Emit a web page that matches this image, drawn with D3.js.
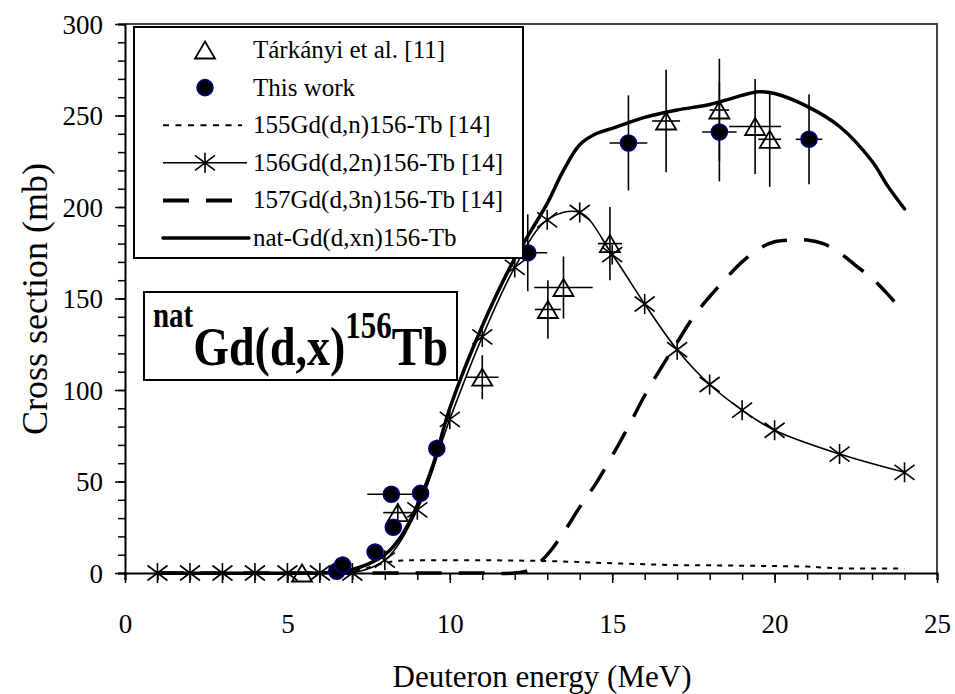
<!DOCTYPE html>
<html>
<head>
<meta charset="utf-8">
<script src="https://cdn.jsdelivr.net/npm/d3@7.9.0/dist/d3.min.js"></script>
<style>
  html, body { margin: 0; padding: 0; background: #fff; }
  svg { display: block; }
</style>
</head>
<body>
<svg id="chart" width="955" height="694" font-family="Liberation Serif"></svg>
<script>
// ---- Data ----
// Tárkányi et al. [11]: energy, cross section, x error, y error
const tarkE    = [5.45, 8.4, 11.0, 13.02, 13.5, 14.93, 16.66, 18.3, 19.4, 19.85];
const tarkXS   = [0, 33, 107, 144, 156, 180, 247, 253, 244, 237];
const tarkDE   = [0.3, 0.45, 0.5, 0.4, 0.9, 0.37, 0.43, 0.3, 0.8, 0.35];
const tarkDXS  = [0, 5, 12, 16, 17, 20, 28, 28, 26, 26];

// This work
const workE    = [6.52, 6.7, 7.7, 8.2, 8.26, 9.1, 9.6, 12.4, 15.5, 18.3, 21.06];
const workXS   = [1, 4.4, 11.5, 43, 25, 43.6, 68, 175, 235, 241, 237];
const workDE   = [0.2, 0.2, 0.2, 0.74, 0.2, 0.2, 0.2, 0.6, 0.58, 0.53, 0.41];
const workDXS  = [1, 1, 2, 4, 3, 4, 5, 21, 26, 27, 24.6];

// 155Gd(d,n)156-Tb [14]
const dnE  = [1, 6, 6.5, 7, 7.5, 8, 8.5, 9, 10, 11, 12, 13, 14, 15, 16, 17, 18, 19, 20, 21, 21.5, 22, 23, 24];
const dnXS = [0, 0, 0.3, 1, 3, 5.5, 6.8, 7, 7, 7, 6.8, 6.5, 6, 5.3, 4.8, 4.3, 4.2, 4, 3.8, 3.5, 3, 2.6, 2.5, 2.5];

// 156Gd(d,2n)156-Tb [14]
const d2nE  = [1, 2, 3, 4, 5, 6, 7, 8, 9, 10, 11, 12, 13, 14, 15, 16, 17, 18, 19, 20, 22, 24];
const d2nXS = [0, 0, 0, 0, 0, 0, 0, 7, 34.5, 84, 129, 167, 193, 197, 174, 147, 122, 103, 89, 78, 65, 55];

// 157Gd(d,3n)156-Tb [14]
const d3nE  = [1, 6, 11, 12, 12.5, 13, 13.5, 14, 14.5, 15, 15.5, 16, 16.5, 17, 17.5, 18, 18.5, 19, 19.5, 20, 20.5, 21, 21.5, 22, 22.5, 23, 23.5, 24];
const d3nXS = [0, 0, 0, 0, 2, 10, 22, 36, 49, 64, 80, 97, 112, 126, 140, 151, 161, 170, 177, 181, 182, 182, 180, 175, 168, 161, 152, 142];

// nat-Gd(d,xn)156-Tb
const natE  = [1, 6, 6.5, 7, 7.5, 8, 8.5, 9, 9.5, 10, 11, 12, 12.5, 13, 13.5, 14, 14.5, 15, 16, 17, 18, 19, 19.5, 20, 21, 22, 23, 23.5, 24];
const natXS = [0, 0, 0.5, 2, 5, 10, 20, 37, 60, 90, 135, 172, 187, 202, 220, 234, 240, 243, 249, 253, 256, 261, 263, 262, 255, 244, 225, 211, 199];

const xTicks = [0, 5, 10, 15, 20, 25];
const yTicks = [0, 50, 100, 150, 200, 250, 300];

const legendLabels = [
  'Tárkányi et al. [11]',
  'This work',
  '155Gd(d,n)156-Tb [14]',
  '156Gd(d,2n)156-Tb [14]',
  '157Gd(d,3n)156-Tb [14]',
  'nat-Gd(d,xn)156-Tb'
];

const FONT = 'Liberation Serif';

// ---- Layout ----
const svg = d3.select('#chart');
const plotLeft = 125, plotRight = 937, plotTop = 24, plotBottom = 573;

const x = d3.scaleLinear().domain([0, 25]).range([plotLeft, plotRight]);
const y = d3.scaleLinear().domain([0, 300]).range([plotBottom, plotTop]);

// frame (top / right)
svg.append('path')
  .attr('d', `M${plotLeft},${plotTop}H${plotRight}V${plotBottom}`)
  .attr('fill', 'none')
  .attr('stroke', '#444')
  .attr('stroke-width', 2);

// ---- Axes ----
const xAxis = svg.append('g').attr('transform', `translate(0,${plotBottom})`);
xAxis.call(d3.axisBottom(x).tickValues(d3.range(0, 26, 1)).tickSize(7).tickFormat(''));
const xMajor = svg.append('g').attr('transform', `translate(0,${plotBottom})`);
xMajor.call(d3.axisBottom(x).tickValues(xTicks).tickSize(10).tickPadding(31));
xMajor.select('.domain').remove();

const yAxis = svg.append('g').attr('transform', `translate(${plotLeft},0)`);
yAxis.call(d3.axisLeft(y).tickValues(d3.range(0, 301, 10)).tickSize(7).tickFormat(''));
const yMajor = svg.append('g').attr('transform', `translate(${plotLeft},0)`);
yMajor.call(d3.axisLeft(y).tickValues(yTicks).tickSize(10).tickPadding(12));
yMajor.select('.domain').remove();

[xAxis, xMajor, yAxis, yMajor].forEach(g => g.attr('font-family', FONT).attr('font-size', 27));
svg.selectAll('.domain').attr('stroke', '#000').attr('stroke-width', 2);
svg.selectAll('.tick line').attr('stroke', '#000').attr('stroke-width', 1.5);
svg.selectAll('.tick text')
  .attr('font-family', FONT)
  .attr('font-size', 27)
  .attr('fill', '#000');
yMajor.selectAll('.tick text').attr('dy', '0.34em');

svg.append('text')
  .attr('x', 542)
  .attr('y', 687)
  .attr('text-anchor', 'middle')
  .attr('font-family', FONT)
  .attr('font-size', 31)
  .text('Deuteron energy (MeV)');

svg.append('text')
  .attr('transform', 'translate(47,299) rotate(-90)')
  .attr('text-anchor', 'middle')
  .attr('font-family', FONT)
  .attr('font-size', 36)
  .text('Cross section (mb)');

// ---- Model curves ----
const line = d3.line()
  .x(d => x(d[0]))
  .y(d => y(d[1]))
  .curve(d3.curveCatmullRom.alpha(0.5));

const plot = svg.append('g');

plot.append('path')
  .datum(d3.zip(dnE, dnXS))
  .attr('d', line)
  .attr('fill', 'none')
  .attr('stroke', '#000')
  .attr('stroke-width', 2)
  .attr('stroke-dasharray', '5,6');

plot.append('path')
  .datum(d3.zip(d3nE, d3nXS))
  .attr('d', line)
  .attr('fill', 'none')
  .attr('stroke', '#000')
  .attr('stroke-width', 3.5)
  .attr('stroke-dasharray', '26,17');

plot.append('path')
  .datum(d3.zip(d2nE, d2nXS))
  .attr('d', line)
  .attr('fill', 'none')
  .attr('stroke', '#000')
  .attr('stroke-width', 1.6);

plot.append('path')
  .datum(d3.zip(natE, natXS))
  .attr('d', line)
  .attr('fill', 'none')
  .attr('stroke', '#000')
  .attr('stroke-width', 3.5)
  .attr('stroke-linecap', 'round');

// ---- Markers ----
const asterisk = 'M0,-10V10M-10,-7.5L10,7.5M-10,7.5L10,-7.5';
const triangle = 'M0,-8.5L10,8.5H-10Z';

plot.selectAll('path.star')
  .data(d3.zip(d2nE, d2nXS))
  .join('path')
  .attr('class', 'star')
  .attr('transform', d => `translate(${x(d[0])},${y(d[1])})`)
  .attr('d', asterisk)
  .attr('fill', 'none')
  .attr('stroke', '#000')
  .attr('stroke-width', 1.6);

function errorBars(g, E, XS, DE, DXS) {
  const rows = E.map((e, i) => ({ e, v: XS[i], de: DE[i], dv: DXS[i] }));
  g.selectAll(null).data(rows).join('line')
    .attr('x1', d => x(d.e - d.de)).attr('x2', d => x(d.e + d.de))
    .attr('y1', d => y(d.v)).attr('y2', d => y(d.v))
    .attr('stroke', '#000').attr('stroke-width', 1.6);
  g.selectAll(null).data(rows).join('line')
    .attr('x1', d => x(d.e)).attr('x2', d => x(d.e))
    .attr('y1', d => y(d.v - d.dv)).attr('y2', d => y(d.v + d.dv))
    .attr('stroke', '#000').attr('stroke-width', 1.6);
}

const tarkG = plot.append('g');
errorBars(tarkG, tarkE, tarkXS, tarkDE, tarkDXS);
tarkG.selectAll('path')
  .data(d3.zip(tarkE, tarkXS))
  .join('path')
  .attr('transform', d => `translate(${x(d[0])},${y(d[1])})`)
  .attr('d', triangle)
  .attr('fill', 'none')
  .attr('stroke', '#000')
  .attr('stroke-width', 1.8);

const workG = plot.append('g');
errorBars(workG, workE, workXS, workDE, workDXS);
workG.selectAll('circle')
  .data(d3.zip(workE, workXS))
  .join('circle')
  .attr('cx', d => x(d[0]))
  .attr('cy', d => y(d[1]))
  .attr('r', 8)
  .attr('fill', '#000')
  .attr('stroke', '#000080')
  .attr('stroke-width', 1.6);

// ---- Legend ----
const legend = svg.append('g');
legend.append('rect')
  .attr('x', 134).attr('y', 27)
  .attr('width', 389).attr('height', 231)
  .attr('fill', '#fff')
  .attr('stroke', '#000')
  .attr('stroke-width', 2);

const rowY = i => 50 + i * 37.6;
const sx0 = 163, sx1 = 247, sxc = 205;

legend.append('path').attr('d', triangle)
  .attr('transform', `translate(${sxc},${rowY(0)})`)
  .attr('fill', 'none').attr('stroke', '#000').attr('stroke-width', 1.8);
legend.append('circle')
  .attr('cx', sxc).attr('cy', rowY(1)).attr('r', 8)
  .attr('fill', '#000').attr('stroke', '#000080').attr('stroke-width', 1.6);
legend.append('line')
  .attr('x1', sx0).attr('x2', sx1 - 5).attr('y1', rowY(2)).attr('y2', rowY(2))
  .attr('stroke', '#000').attr('stroke-width', 2).attr('stroke-dasharray', '6,6.5');
legend.append('line')
  .attr('x1', sx0).attr('x2', sx1).attr('y1', rowY(3)).attr('y2', rowY(3))
  .attr('stroke', '#000').attr('stroke-width', 1.6);
legend.append('path').attr('d', asterisk)
  .attr('transform', `translate(${sxc},${rowY(3)})`)
  .attr('fill', 'none').attr('stroke', '#000').attr('stroke-width', 1.6);
legend.append('line')
  .attr('x1', sx0).attr('x2', sx1 - 1).attr('y1', rowY(4)).attr('y2', rowY(4))
  .attr('stroke', '#000').attr('stroke-width', 4).attr('stroke-dasharray', '26,17');
legend.append('line')
  .attr('x1', sx0).attr('x2', sx1 + 2).attr('y1', rowY(5)).attr('y2', rowY(5))
  .attr('stroke', '#000').attr('stroke-width', 3.5).attr('stroke-linecap', 'round');

legend.selectAll('text')
  .data(legendLabels)
  .join('text')
  .attr('x', 253)
  .attr('y', (_, i) => rowY(i) + 8)
  .attr('font-family', FONT)
  .attr('font-size', 25)
  .text(d => d);

// ---- Reaction label ----
svg.append('rect')
  .attr('x', 144).attr('y', 292)
  .attr('width', 313).attr('height', 88)
  .attr('fill', '#fff')
  .attr('stroke', '#000')
  .attr('stroke-width', 2);

const title = svg.append('g')
  .attr('transform', 'translate(153,365) scale(1,1.2)')
  .append('text')
  .attr('font-family', FONT)
  .attr('font-weight', 'bold');
title.append('tspan').attr('font-size', 29).attr('dy', -32).text('nat');
title.append('tspan').attr('font-size', 46).attr('dy', 32).text('Gd(d,x)');
title.append('tspan').attr('font-size', 31).attr('dy', -22.5).text('156');
title.append('tspan').attr('font-size', 46).attr('dy', 22.5).text('Tb');
</script>
</body>
</html>
